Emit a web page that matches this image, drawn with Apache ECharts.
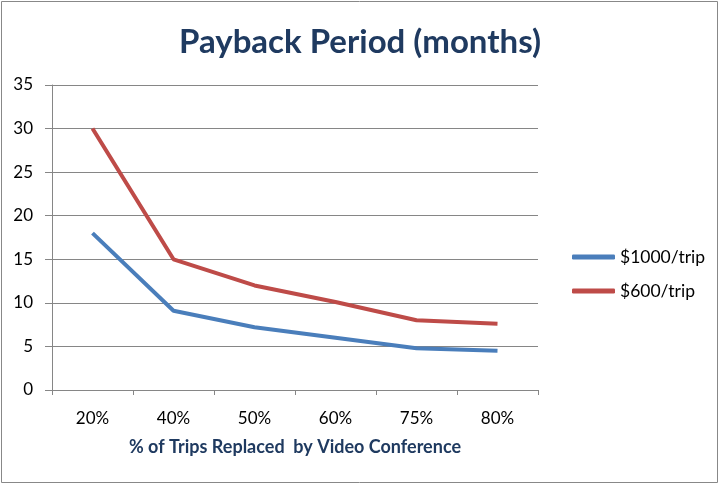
<!DOCTYPE html>
<html><head><meta charset="utf-8">
<script src="https://cdn.jsdelivr.net/npm/echarts@6/dist/echarts.min.js"></script>
<style>html,body{margin:0;padding:0;background:#fff}#c{width:720px;height:485px}</style>
</head><body><div id="c"></div>
<script>
var categories = ['20%','40%','50%','60%','75%','80%'];
var seriesNames = ['$1000/trip','$600/trip'];
var values1000 = [18, 9.1, 7.2, 6.0, 4.8, 4.5];
var values600 = [30, 15, 12, 10.1, 8.0, 7.6];
var yTicks = {min:0, max:35, interval:5};

var chart = echarts.init(document.getElementById('c'));
var font = 'Lato, "Open Sans", sans-serif';
chart.setOption({
  animation:false,
  backgroundColor:'#fff',
  title:{text:'Payback Period (months)', left:'center', top:21,
    textStyle:{fontFamily:font, fontSize:33, fontWeight:'bold', color:'#1F3A60'}},
  graphic:[{type:'rect', shape:{x:1.5,y:1.5,width:716,height:481}, style:{fill:'none', stroke:'#888', lineWidth:1}}],
  grid:{left:52, right:182, top:85, bottom:95},
  legend:{orient:'vertical', left:567, top:243, itemWidth:43, itemHeight:5, itemGap:16, icon:'roundRect',
    textStyle:{fontFamily:font, fontSize:17.5, color:'#000'},
    data:seriesNames},
  xAxis:{type:'category', data:categories, boundaryGap:true,
    name:'% of Trips Replaced  by Video Conference', nameLocation:'middle', nameGap:48,
    nameTextStyle:{fontFamily:font, fontSize:18, fontWeight:'bold', color:'#1F3A60'},
    axisLine:{lineStyle:{color:'#868686', width:1}},
    axisTick:{show:true, length:5, lineStyle:{color:'#868686'}},
    axisLabel:{fontFamily:font, fontSize:17, color:'#000', margin:20}},
  yAxis:{type:'value', min:yTicks.min, max:yTicks.max, interval:yTicks.interval,
    axisLine:{show:true, lineStyle:{color:'#868686', width:1}},
    axisTick:{show:true, length:7, lineStyle:{color:'#868686'}},
    splitLine:{lineStyle:{color:'#868686', width:1}},
    axisLabel:{fontFamily:font, fontSize:17, color:'#000', margin:19}},
  series:[
    {name:seriesNames[0], type:'line', data:values1000, symbol:'none', lineStyle:{width:4, color:'#4A7EBB'}, itemStyle:{color:'#4A7EBB'}},
    {name:seriesNames[1], type:'line', data:values600, symbol:'none', lineStyle:{width:4, color:'#BE4B48'}, itemStyle:{color:'#BE4B48'}}
  ]
});
</script></body></html>
